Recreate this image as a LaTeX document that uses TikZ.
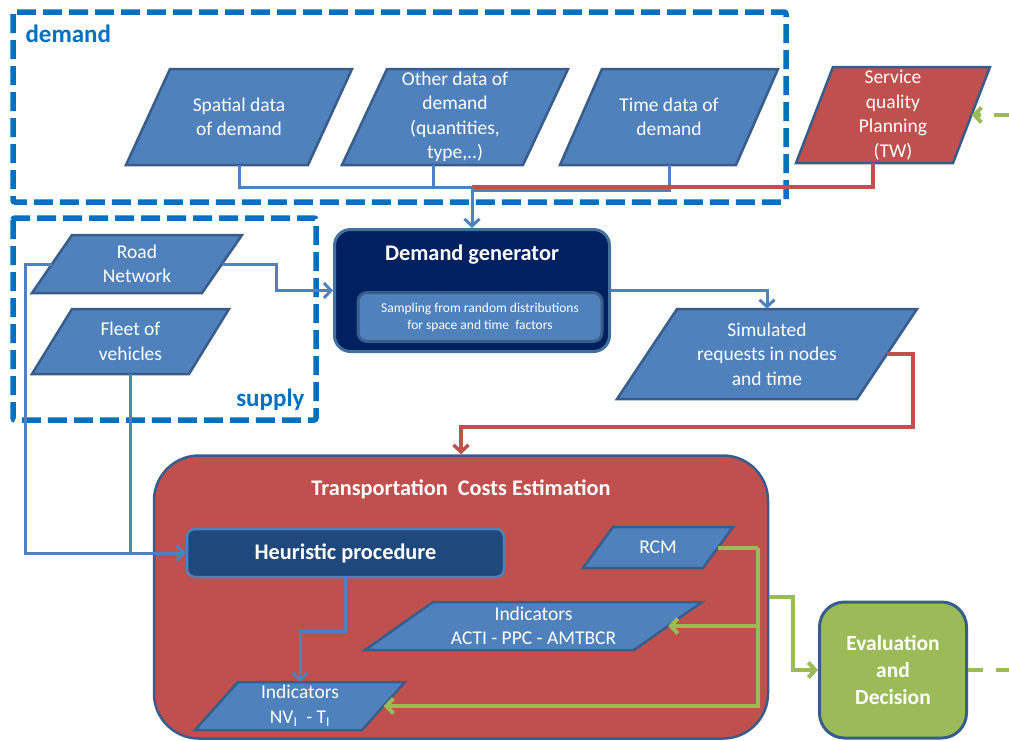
\documentclass[tikz,border=0pt]{standalone}
\usepackage{fontspec}
\setmainfont{Carlito}
\usepackage{xcolor}
\usepackage{tikz}
\usetikzlibrary{shapes,arrows,positioning,calc,arrows.meta}

\definecolor{boxblue}{HTML}{4F81BD}
\definecolor{edgeblue}{HTML}{385D8A}
\definecolor{genedge}{HTML}{41719C}
\definecolor{navy}{HTML}{002060}
\definecolor{heurblue}{HTML}{1F497D}
\definecolor{costred}{HTML}{C0504D}
\definecolor{evalgreen}{HTML}{9BBB59}
\definecolor{groupblue}{HTML}{0070C0}

\newcommand{\boxfont}{\fontsize{19.5}{24.5}\selectfont}
\newcommand{\headfont}{\fontsize{22.3}{27}\selectfont\bfseries}

% slanted data box: [fill]{name}{centre}{edge length}{height}{slant}{text}
\newcommand{\slantbox}[7][boxblue]{%
  \filldraw[draw=edgeblue, fill=#1, line width=2.5pt]
    ($(#3)+(-#4/2-#6/2,#5/2)$) -- ++(#4,0) -- ++(#6,-#5) -- ++(-#4,0) -- cycle;
  \node[minimum width=#4pt, minimum height=#5pt, inner sep=0pt, text=white,
        align=center, font=\boxfont] (#2) at (#3) {#7};
}

\tikzset{
  groupbox/.style={draw=groupblue, line width=5.5pt, dash pattern=on 19pt off 7pt, rounded corners=2pt},
  grouplabel/.style={text=groupblue, font=\fontsize{25}{30}\selectfont\bfseries},
  arrowhd/.style={-{Straight Barb[length=7pt,width=15pt]}},
  bline/.style={draw=boxblue, line width=3pt},
  rline/.style={draw=costred, line width=3.5pt},
  gline/.style={draw=evalgreen, line width=4pt},
  gdash/.style={gline, dash pattern=on 15pt off 13pt},
}

\begin{document}
\begin{tikzpicture}[x=1pt,y=-1pt]
    \useasboundingbox (0,0) rectangle (1009,740);

    % Groups
    \draw[groupbox] (13,12) rectangle (786,202);
    \node[grouplabel, anchor=west] (demlbl) at (22,34) {demand};
    \draw[groupbox] (13,218) rectangle (316,420);
    \node[grouplabel, anchor=east] (suplbl) at (308,400) {supply};

    % Demand data
    \slantbox{spat}{239,117}{182}{96}{44}{Spatial data\\of demand}
    \slantbox{oth}{455,117}{181}{96}{45}{Other data of\\demand\\(quantities,\\type,..)}
    \slantbox{time}{669,117}{176}{96}{42}{Time data of\\demand}
    \slantbox[costred]{serv}{893,115}{157}{96}{37}{Service\\quality\\Planning\\(TW)}

    % Supply data
    \slantbox{road}{137,264}{170}{58}{40}{Road\\Network}
    \slantbox{fleet}{130.5,341.5}{157}{65}{40}{Fleet of\\vehicles}

    % Demand generator
    \node[draw=genedge, fill=navy, line width=3pt, rounded corners=16pt,
          minimum width=275pt, minimum height=122pt] (gen) at (472,290.5) {};
    \node[text=white, font=\headfont] (gentitle) at (472,255) {Demand generator};
    \node[draw=edgeblue, fill=boxblue, line width=3pt, rounded corners=9pt, text=white,
          align=center, minimum width=244pt, minimum height=49pt,
          font=\fontsize{13.5}{17}\selectfont] (sampl) at (480,317)
          {Sampling from random distributions\\for space and time\ \ factors};
    \slantbox{sim}{767,354}{240}{90}{60}{Simulated\\requests in nodes\\and time}

    % Transportation costs
    \node[draw=edgeblue, fill=costred, line width=2.5pt, rounded corners=45pt,
          minimum width=614pt, minimum height=283pt] (tce) at (461,597) {};
    \node[text=white, font=\headfont] (tcetitle) at (461,489) {Transportation\ \ Costs Estimation};
    \node[draw=boxblue, fill=heurblue, line width=2.5pt, rounded corners=8pt, text=white,
          font=\headfont, minimum width=317pt, minimum height=48pt] (heur) at (345.5,553) {Heuristic procedure};
    \slantbox{rcm}{658,547.5}{120}{41}{30}{RCM}
    \slantbox{acti}{533.5,626}{269}{48}{68}{Indicators\\ACTI - PPC - AMTBCR}
    \slantbox{nv}{300,706}{167}{48}{43}{Indicators\\NV\textsubscript{I}\ \ - T\textsubscript{I}}

    % Evaluation
    \node[draw=edgeblue, fill=evalgreen, line width=3pt, rounded corners=25pt, text=white,
          align=center, font=\fontsize{21.5}{27}\selectfont\bfseries,
          minimum width=147pt, minimum height=136pt] (eval) at (893,670) {Evaluation\\and\\Decision};

    % Links into the generator
    \coordinate (jdem) at (472,187);
    \draw[bline] (spat.south) |- (jdem);
    \draw[bline] ([xshift=-22pt]oth.south) |- (jdem);
    \draw[bline] (time.south) |- ($(jdem)+(0,3)$);
    \draw[rline] ([xshift=-20pt]serv.south) |- (jdem);
    \draw[bline, arrowhd] (jdem) -- (gen.north);
    \draw[bline, arrowhd] (road.east) -| ([xshift=-57pt]gen.west) -- (gen.west);

    % Links into the costs
    \draw[bline, arrowhd] (gen.east) -| (sim.north);
    \draw[rline, arrowhd] (sim.east) -- ++(26,0) -- ++(0,73) -| (tce.north);
    \draw[bline, arrowhd] (road.west) -- ++(-26,0) |- (heur.west);
    \draw[bline] (fleet.south) -- (fleet.south |- heur.west);
    \draw[bline, arrowhd] (heur.south) -- ++(0,53) -| (nv.north);

    % RCM feedback
    \coordinate (gsplit) at ($(rcm.east)+(40,0)$);
    \draw[gline] (rcm.east) -- (gsplit);
    \draw[gline, arrowhd] (gsplit) |- (nv.east);
    \draw[gline, arrowhd] (gsplit |- acti.east) -- (acti.east);
    \draw[gline, arrowhd] (tce.east) -- ++(24,0) |- (eval.west);

    % Loose ends
    \coordinate (evout) at (1009,670);
    \coordinate (fbin) at (1009,115);
    \draw[gdash] (eval.east) -- (evout);
    \draw[gdash, arrowhd] (fbin) -- (serv.east);
\end{tikzpicture}
\end{document}
